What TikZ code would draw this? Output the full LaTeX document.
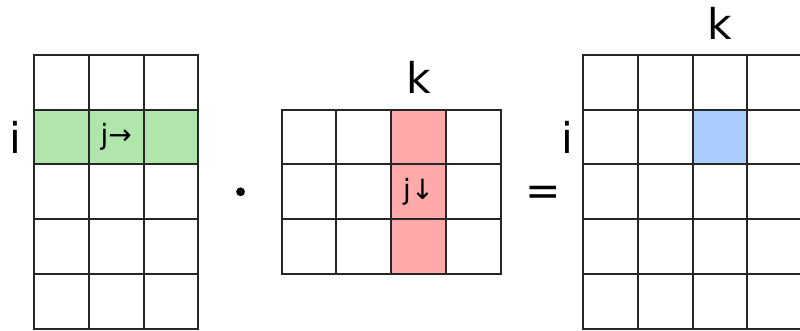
\documentclass[tikz,border=0pt]{standalone}
\usepackage{fontspec}
\setmainfont{DejaVu Sans}
\usetikzlibrary{positioning}
\definecolor{rowfill}{HTML}{B0E6AC}
\definecolor{colfill}{HTML}{FFAAAA}
\definecolor{outfill}{HTML}{AACCFF}
\definecolor{gridline}{HTML}{262626}

\begin{document}
\begin{tikzpicture}[
      cell/.style={draw=gridline,line width=1pt},
      big/.style={font=\fontsize{22}{26}\selectfont},
      small/.style={font=\fontsize{14.5}{17}\selectfont}
    ]
      \useasboundingbox (0,0) rectangle (14.6,-6.04);
      % highlighted cells
      \fill[rowfill] (0.62,-2) rectangle (3.62,-3);
      \fill[colfill] (7.14,-2) rectangle (8.14,-5);
      \fill[outfill] (12.64,-2) rectangle (13.64,-3);
      % left matrix 5x3
      \foreach \c in {0,1,2}
        \foreach \r in {0,...,4}
          \draw[cell] ({0.62+\c},{-1-\r}) rectangle +(1,-1);
      % middle matrix 3x4
      \foreach \c in {0,...,3}
        \foreach \r in {0,1,2}
          \draw[cell] ({5.14+\c},{-2-\r}) rectangle +(1,-1);
      % right matrix 5x4
      \foreach \c in {0,...,3}
        \foreach \r in {0,...,4}
          \draw[cell] ({10.64+\c},{-1-\r}) rectangle +(1,-1);
      \node[big] (ia) at (0.28,-2.5) {i};
      \node[small] (ja) at (2.12,-2.5) {j→};
      \node[circle,fill=black,inner sep=0pt,minimum size=0.16cm] (dot) at (4.39,-3.5) {};
      \node[big] (kb) at (7.64,-1.42) {k};
      \node[small] (jb) at (7.64,-3.5) {j↓};
      \node[big] (eq) at (9.91,-3.58) {=};
      \node[big] (kc) at (13.14,-0.42) {k};
      \node[big] (ic) at (10.35,-2.5) {i};
    \end{tikzpicture}
\end{document}
